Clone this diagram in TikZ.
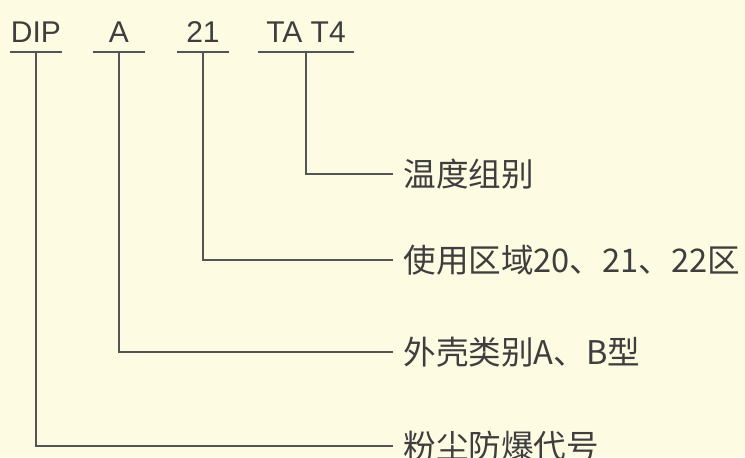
\documentclass[tikz,border=0pt]{standalone}
\usepackage{fontspec}
\setmainfont{Liberation Sans}
\newfontfamily\cjk{Noto Sans CJK SC}
\definecolor{nen}{HTML}{FEFBE3}
\definecolor{chu}{HTML}{3E3E3E}
\definecolor{net}{HTML}{555555}
\begin{document}
\begin{tikzpicture}[x=0.5pt,y=-0.5pt,
	ma/.style={font=\fontsize{15}{17}\selectfont,text=chu,anchor=base,inner xsep=0pt,inner ysep=5pt},
	nhan/.style={font=\cjk\fontsize{16.3}{18}\selectfont,text=chu,anchor=west,inner xsep=5pt,inner ysep=0pt},
	net/.style={draw=net,line width=1pt}]
	\fill[nen] (0,0) rectangle (745,457);
	\useasboundingbox (0,0) rectangle (745,457);
	% Các mã ở dòng trên
	\node[ma,minimum width=26pt] (dip) at (36,42) {DIP};
	\node[ma,minimum width=26pt] (vo) at (119,42) {A};
	\node[ma,minimum width=26pt] (vung) at (203,42) {21};
	\node[ma,minimum width=48pt] (nhiet) at (306,42) {TA T4};
	\foreach \m in {dip,vo,vung,nhiet}
		\draw[net] (\m.south west) -- (\m.south east); % gạch dưới mỗi mã
	% Các chú thích bên phải
	\node[nhan] (tnhiet) at (393,174) {温度组别};
	\node[nhan] (tvung) at (393,260) {使用区域20、21、22区};
	\node[nhan] (tvo) at (393,352) {外壳类别A、B型};
	\node[nhan] (tdip) at (393,446) {粉尘防爆代号};
	% Đường nối
	\draw[net] (nhiet.south) |- (tnhiet.west);
	\draw[net] (vung.south) |- (tvung.west);
	\draw[net] (vo.south) |- (tvo.west);
	\draw[net] (dip.south) |- (tdip.west);
\end{tikzpicture}
\end{document}
